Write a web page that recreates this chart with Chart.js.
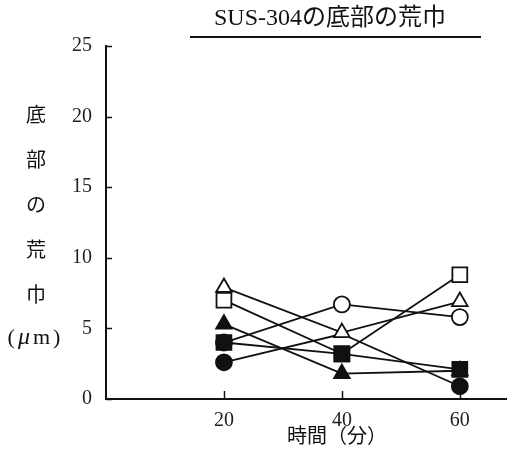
<!DOCTYPE html>
<html>
<head>
<meta charset="utf-8">
<script src="https://cdn.jsdelivr.net/npm/chart.js@4/dist/chart.umd.min.js"></script>
<style>
  html, body { margin: 0; padding: 0; background: #fff; overflow: hidden; }
  canvas { display: block; }
</style>
</head>
<body>
<canvas id="c" width="507" height="454"></canvas>
<script>
// Measurement times (minutes)
const times = [20, 40, 60];

// Bottom roughness (µm) of the six specimens
const openCircle     = [4.0, 6.7, 5.8];
const openTriangle   = [7.9, 4.7, 6.9];
const openSquare     = [7.0, 3.2, 8.8];
const filledCircle   = [2.6, 4.6, 0.9];
const filledTriangle = [5.3, 1.8, 2.0];
const filledSquare   = [4.0, 3.2, 2.1];

// Axis ticks and texts
const xTicks = [20, 40, 60];
const yTicks = [0, 5, 10, 15, 20, 25];
const titleText = 'SUS-304の底部の荒巾';
const xTitle = '時間（分）';
const yTitle = ['底', '部', 'の', '荒', '巾'];
const yUnit = ['(', 'μ', 'm', ')'];

const INK = '#111';
const SERIF = '"Liberation Serif", "Noto Sans CJK JP"';

function series(values, style, filled, radius, hidden) {
  return {
    data: times.map((t, i) => ({ x: t, y: values[i] })),
    showLine: true,
    fill: false,
    tension: 0,
    borderColor: INK,
    borderWidth: 1.8,
    pointStyle: style,
    pointRadius: times.map((t, i) => (hidden && hidden.includes(i)) ? 0 : radius),
    pointBackgroundColor: filled ? INK : '#fff',
    pointBorderColor: INK,
    pointBorderWidth: 1.8
  };
}

// Draw order: first dataset ends up on top
const datasets = [
  series(filledSquare,   'rect',     true,  10.5),
  series(openTriangle,   'triangle', false, 9),
  series(openCircle,     'circle',   false, 8),
  series(openSquare,     'rect',     false, 10.5),
  series(filledTriangle, 'triangle', true,  9),
  series(filledCircle,   'circle',   true,  8, [1])
];

const decor = {
  id: 'decor',
  afterDraw(chart) {
    const { ctx, chartArea: a, scales: { x, y } } = chart;
    ctx.save();
    ctx.strokeStyle = INK;
    ctx.fillStyle = INK;

    // inward tick marks
    ctx.lineWidth = 1.5;
    yTicks.forEach(v => {
      const py = Math.round(y.getPixelForValue(v)) + 0.5;
      ctx.beginPath(); ctx.moveTo(a.left, py); ctx.lineTo(a.left + 6, py); ctx.stroke();
    });
    xTicks.forEach(v => {
      const px = Math.round(x.getPixelForValue(v)) + 0.5;
      ctx.beginPath(); ctx.moveTo(px, a.bottom); ctx.lineTo(px, a.bottom - 8); ctx.stroke();
    });

    // x tick labels
    ctx.textAlign = 'center';
    ctx.textBaseline = 'middle';
    ctx.font = '20px "Liberation Serif"';
    ctx.fillStyle = '#222';
    xTicks.forEach(v => ctx.fillText(String(v), x.getPixelForValue(v), a.bottom + 22));
    ctx.fillStyle = INK;

    // chart title with rule underneath
    ctx.font = '24px ' + SERIF;
    ctx.fillText(titleText, 330, 19);
    ctx.lineWidth = 2;
    ctx.beginPath(); ctx.moveTo(190, 37); ctx.lineTo(481, 37); ctx.stroke();

    // x axis title
    ctx.font = '20px ' + SERIF;
    ctx.fillText(xTitle, 337, 438);

    // vertical y axis title, one character per row
    const rows = [117, 162, 207, 252, 297];
    ctx.font = '20px ' + SERIF;
    yTitle.forEach((t, i) => ctx.fillText(t, 36, rows[i]));

    // unit, with an italic mu and loose spacing
    const fonts = ['22px ' + SERIF, 'italic 24px ' + SERIF, '22px ' + SERIF, '22px ' + SERIF];
    const gap = 3;
    let total = 0;
    const widths = yUnit.map((t, i) => { ctx.font = fonts[i]; const w = ctx.measureText(t).width; total += w; return w; });
    total += gap * (yUnit.length - 1);
    let ux = 34 - total / 2;
    ctx.textAlign = 'left';
    yUnit.forEach((t, i) => {
      ctx.font = fonts[i];
      ctx.fillText(t, ux, 338);
      ux += widths[i] + gap;
    });

    ctx.restore();
  }
};

new Chart(document.getElementById('c'), {
  type: 'scatter',
  data: { datasets },
  options: {
    responsive: false,
    animation: false,
    layout: { autoPadding: false, padding: { top: 46, right: 0, left: 0, bottom: 0 } },
    plugins: { legend: { display: false }, tooltip: { enabled: false }, title: { display: false } },
    scales: {
      x: {
        type: 'linear',
        min: 0,
        max: 68,
        afterBuildTicks: s => { s.ticks = xTicks.map(v => ({ value: v })); },
        afterFit: s => { s.height = 55; },
        grid: { display: true, drawOnChartArea: false, drawTicks: false },
        border: { display: true, color: INK, width: 2 },
        ticks: { display: false }
      },
      y: {
        type: 'linear',
        min: 0,
        max: 25,
        afterBuildTicks: s => { s.ticks = yTicks.map(v => ({ value: v })); },
        afterFit: s => { s.width = 106; },
        grid: { display: true, drawOnChartArea: false, drawTicks: false },
        border: { display: true, color: INK, width: 2 },
        ticks: {
          padding: 14,
          color: '#222',
          font: { family: 'Liberation Serif', size: 20 },
          callback: v => String(v)
        }
      }
    }
  },
  plugins: [decor]
});
</script>
</body>
</html>
